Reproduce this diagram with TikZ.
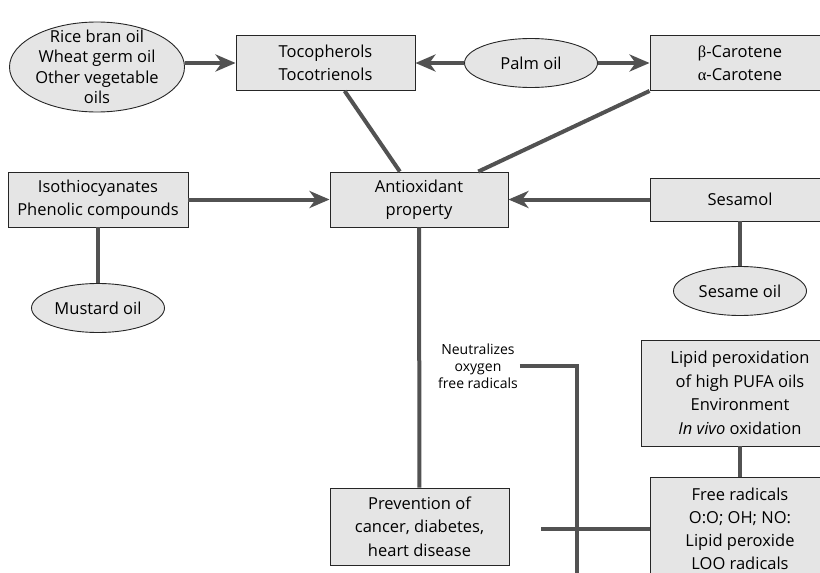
\documentclass[tikz,border=0pt]{standalone}
\usepackage{fontspec}
\setmainfont{Open Sans}
\newfontfamily\greekfont{Liberation Serif}
\usetikzlibrary{arrows.meta,shapes.geometric}

\begin{document}
\begin{tikzpicture}[x=1pt,y=-1pt,
  box/.style={draw=black!85,fill=gray!20,line width=0.9pt,align=center,
    minimum width=179pt,minimum height=55pt,inner sep=0pt,
    font=\fontsize{16.5}{23.5}\selectfont},
  oil/.style={ellipse,draw=black!85,fill=gray!20,line width=0.9pt,align=center,
    inner xsep=-20pt,inner ysep=-20pt,minimum width=133pt,minimum height=49pt,
    font=\fontsize{16.5}{20.5}\selectfont},
  link/.style={draw=black!68,line width=4pt},
  push/.style={link,-{Stealth[length=20pt,width=17pt,inset=6pt]}}]
\useasboundingbox (0,0) rectangle (820,573);
\clip (0,0) rectangle (820,573);

% sources
\node[oil,minimum width=175pt,minimum height=90pt] (rice) at (97,67) {Rice bran oil\\Wheat germ oil\\Other vegetable\\oils};
\node[oil] (palm) at (531,63) {Palm oil};
\node[oil] (mustard) at (98,308) {Mustard oil};
\node[oil] (sesame) at (740,291) {Sesame oil};

% compounds
\node[box] (toco) at (325.5,63) {Tocopherols\\Tocotrienols};
\node[box,minimum width=180pt] (carot) at (740,63) {{\greekfont β}-Carotene\\{\greekfont α}-Carotene};
\node[box,minimum width=178pt] (anti) at (419,199.5) {Antioxidant\\property};
\node[box,minimum width=180pt] (iso) at (98,199.5) {Isothiocyanates\\Phenolic compounds};
\node[box,minimum width=180pt,minimum height=43pt] (sesamol) at (740,199.5) {Sesamol};

% lower part
\node[box,minimum height=77pt] (prev) at (419.5,526.5) {Prevention of\\cancer, diabetes,\\heart disease};
\node[box,minimum width=198pt,minimum height=106pt] (lipid) at (740,393) {Lipid peroxidation\\of high PUFA oils\\Environment\\\textit{In vivo} oxidation};
\node[box,minimum width=180pt,minimum height=104pt,font=\fontsize{16.5}{23}\selectfont] (free) at (740,529) {Free radicals\\O:O; OH; NO:\\Lipid peroxide\\LOO radicals};
\node[align=center,inner sep=2pt,font=\fontsize{14}{17}\selectfont] (neut) at (478,366) {Neutralizes\\oxygen\\free radicals};
\coordinate (cut) at (577,600);
\coordinate (stub) at (541,529);

\draw[push] (rice.east |- toco.west) -- (toco.west);
\draw[push] (palm.west) -- (toco.east);
\draw[push] (palm.east) -- (carot.west);
\draw[link] (toco) -- (anti);
\draw[link] (carot.south west) -- (anti);
\draw[push] (iso) -- (anti);
\draw[push] (sesamol) -- (anti);
\draw[link] (sesamol) -- (sesame);
\draw[link] (iso) -- (mustard);
\draw[link] (anti) -- (prev);
\draw[link] (lipid) -- (free);
\draw[link] (neut.east) -| (cut);
\draw[link] (free.west) -- (stub);
\end{tikzpicture}
\end{document}
